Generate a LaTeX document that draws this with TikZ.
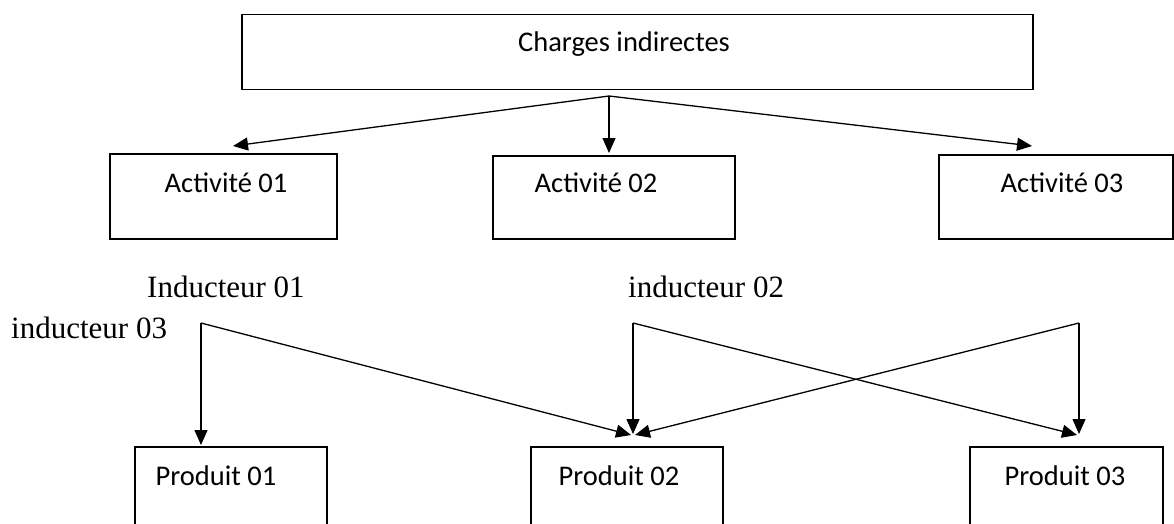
\documentclass[tikz,border=0pt]{standalone}
\usepackage{fontspec}
\setmainfont{Liberation Serif}
\newfontfamily\boxfont{Carlito}
\usetikzlibrary{arrows.meta}
\begin{document}
\begin{tikzpicture}[x=1pt,y=-1pt,
  box/.style={draw, line width=1.5pt, inner sep=0pt, anchor=north west},
  boxtext/.style={anchor=base, inner sep=0pt, font=\boxfont\fontsize{28.5}{34}\selectfont},
  drvtext/.style={anchor=base west, inner sep=0pt, font=\fontsize{31}{37}\selectfont},
  arr/.style={line width=1.3pt, -{Triangle[length=15pt,width=13pt]}}]
\clip (0,0) rectangle (1174,524);
\fill[white] (0,0) rectangle (1174,524);

% cost pool
\node[box, minimum width=791pt, minimum height=75pt] (charges) at (241,14) {};
\node[boxtext] (chargest) at (624,52) {Charges indirectes};

% activities
\node[box, minimum width=227pt, minimum height=85pt] (act1) at (109,153) {};
\node[box, minimum width=242pt, minimum height=83pt] (act2) at (492,155) {};
\node[box, minimum width=234pt, minimum height=84pt] (act3) at (938,154) {};
\node[boxtext] (act1t) at (226,192) {Activité 01};
\node[boxtext] (act2t) at (596,192) {Activité 02};
\node[boxtext] (act3t) at (1062,192) {Activité 03};

% cost drivers
\node[drvtext] (ind1) at (147,297) {Inducteur 01};
\node[drvtext] (ind2) at (628,297) {inducteur 02};
\node[drvtext] (ind3) at (11,338) {inducteur 03};

% products (bottom edge runs off the page)
\node[box, minimum width=192pt, minimum height=100pt] (prod1) at (134,446) {};
\node[box, minimum width=192pt, minimum height=100pt] (prod2) at (530,446) {};
\node[box, minimum width=193pt, minimum height=100pt] (prod3) at (969,446) {};
\node[boxtext] (prod1t) at (216,485) {Produit 01};
\node[boxtext] (prod2t) at (619,485) {Produit 02};
\node[boxtext] (prod3t) at (1065,485) {Produit 03};

% allocation of indirect costs to activities
\coordinate (split) at (609,96);
\coordinate (a1in) at (233,146);
\coordinate (a2in) at (609,153);
\coordinate (a3in) at (1032,146);
\draw[arr] (split) -- (a1in);
\draw[arr] (split) -- (a2in);
\draw[arr] (split) -- (a3in);

% allocation of activities to products
\coordinate (d1) at (201,323);
\coordinate (d2) at (633,323);
\coordinate (d3) at (1079,323);
\coordinate (p1in) at (201,445);
\coordinate (p2a) at (631,435);
\coordinate (p2b) at (633,434);
\coordinate (p2c) at (635,435);
\coordinate (p3a) at (1077,435);
\coordinate (p3b) at (1079,434);
\draw[arr] (d1) -- (p1in);
\draw[arr] (d1) -- (p2a);
\draw[arr] (d2) -- (p2b);
\draw[arr] (d2) -- (p3a);
\draw[arr] (d3) -- (p2c);
\draw[arr] (d3) -- (p3b);
\end{tikzpicture}
\end{document}
